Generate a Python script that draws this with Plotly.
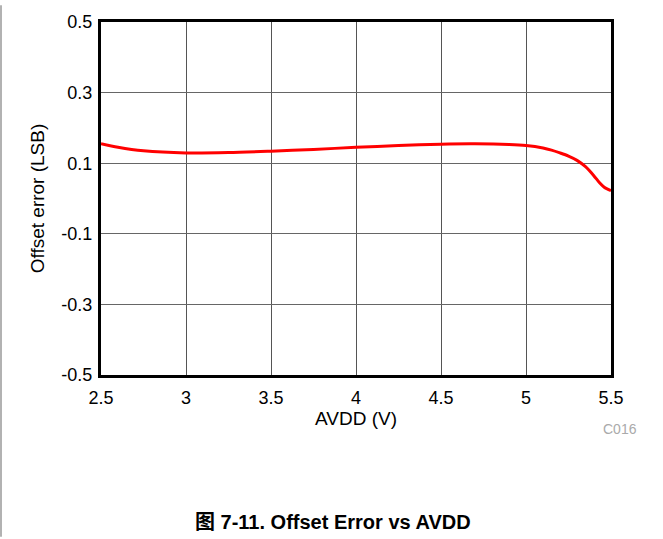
import plotly.graph_objects as go

# Offset error vs analog supply voltage
avdd = [2.5, 2.6, 2.75, 3.0, 3.25, 3.5, 3.75, 4.0, 4.25, 4.5, 4.7, 4.9, 5.0, 5.1, 5.15, 5.2, 5.25, 5.3,
        5.35, 5.4, 5.43, 5.46, 5.5]
offset_lsb = [0.155, 0.145, 0.135, 0.129, 0.130, 0.134, 0.139, 0.145, 0.150, 0.154, 0.155, 0.153, 0.150,
              0.143, 0.137, 0.129, 0.120, 0.108, 0.090, 0.064, 0.046, 0.032, 0.022]

x_ticks = [2.5, 3, 3.5, 4, 4.5, 5, 5.5]
y_ticks = [-0.5, -0.3, -0.1, 0.1, 0.3, 0.5]

W, H = 663, 539
L, R, T, B = 101, 52, 17, 164

fig = go.Figure()
fig.add_trace(go.Scatter(
    x=avdd, y=offset_lsb, mode="lines",
    line=dict(color="#ff0000", width=3, shape="spline", smoothing=0.8),
    showlegend=False, hoverinfo="skip",
))

font = "Liberation Sans, Arial, sans-serif"
pw = W - L - R
ph = H - T - B

fig.update_layout(
    width=W, height=H,
    margin=dict(l=L, r=R, t=T, b=B),
    paper_bgcolor="white", plot_bgcolor="white",
    font=dict(family=font, size=18, color="black"),
    xaxis=dict(
        range=[2.5, 5.5], tickvals=x_ticks, ticktext=[f"{v:g}" for v in x_ticks],
        showgrid=True, gridcolor="#555555", gridwidth=1,
        showline=True, linecolor="black", linewidth=3, mirror=True,
        ticks="", zeroline=False, ticklabelstandoff=4,
        title=dict(text="AVDD (V)", font=dict(size=19), standoff=2),
        tickfont=dict(size=18),
    ),
    yaxis=dict(
        range=[-0.5, 0.5], tickvals=y_ticks, ticktext=[f"{v:g}" for v in y_ticks],
        showgrid=True, gridcolor="#666666", gridwidth=1,
        showline=True, linecolor="black", linewidth=3, mirror=True,
        ticks="", zeroline=False, ticklabelstandoff=2,
        title=dict(text="Offset error (LSB)", font=dict(size=19), standoff=12),
        tickfont=dict(size=18),
    ),
    annotations=[
        dict(text="C016", xref="paper", yref="paper",
             x=(639 - L) / pw, y=-(430 - T - ph) / ph,
             xanchor="right", yanchor="middle", showarrow=False,
             font=dict(size=14, color="#aaaaaa")),
        dict(text="<b>图 7-11. Offset Error vs AVDD</b>", xref="paper", yref="paper",
             x=(333 - L) / pw, y=-(524 - T - ph) / ph,
             xanchor="center", yanchor="middle", showarrow=False,
             font=dict(size=20, color="black",
                       family="Liberation Sans, Arial, Noto Sans CJK SC, sans-serif")),
    ],
    shapes=[
        dict(type="line", xref="paper", yref="paper",
             x0=(1 - L) / pw, x1=(1 - L) / pw,
             y0=-(H - T - ph) / ph, y1=(ph + T) / ph,
             line=dict(color="#999999", width=1.5)),
    ],
)

fig.write_html("out.html")
